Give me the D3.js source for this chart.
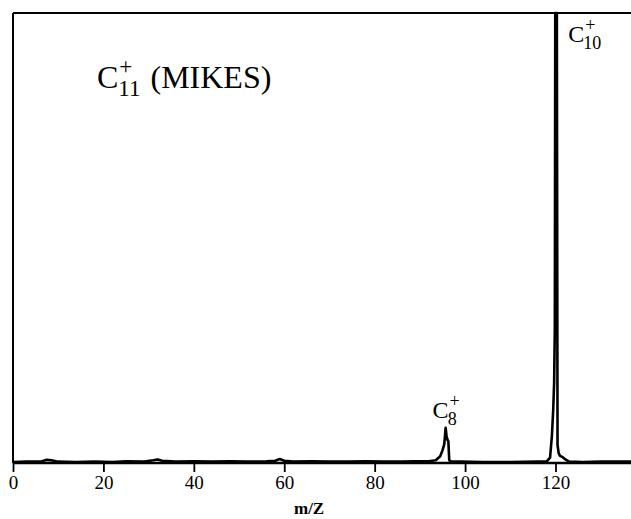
<!DOCTYPE html>
<html>
<head>
<meta charset="utf-8">
<script src="https://cdn.jsdelivr.net/npm/d3@7"></script>
<style>
  body { margin: 0; background: #fff; }
  text { font-family: "Liberation Serif", "DejaVu Serif", serif; fill: #000; }
</style>
</head>
<body>
<script>
// m/Z positions and relative intensity (% of C10+ peak)
const mz = [0, 3, 6, 7.5, 8.5, 10, 14, 18, 22, 25, 29, 31, 32, 33, 36, 40, 44, 48, 52, 56, 58, 59, 60, 62, 66, 70, 74, 78, 82, 86, 89, 92, 93.5, 94.5, 95, 95.4, 95.7, 95.9, 96.1, 96.3, 96.5, 97, 99, 104, 110, 116, 118, 118.8, 119.2, 119.5, 119.7, 119.85, 119.95, 120.3, 120.45, 120.7, 121, 121.6, 122.2, 123, 126, 130, 137]
const intensity = [0.2, 0.3, 0.3, 0.7, 0.6, 0.3, 0.2, 0.3, 0.2, 0.4, 0.3, 0.6, 0.8, 0.5, 0.3, 0.4, 0.3, 0.4, 0.3, 0.4, 0.5, 0.9, 0.5, 0.3, 0.4, 0.3, 0.3, 0.4, 0.3, 0.3, 0.4, 0.4, 0.6, 1.5, 2.8, 4.2, 7.8, 6.0, 5.2, 4.8, 0.6, 0.3, 0.3, 0.2, 0.2, 0.3, 0.3, 1.2, 6, 12, 18, 30, 100, 100, 4, 2.2, 1.6, 1.3, 0.8, 0.3, 0.2, 0.3, 0.3]

const xTicks = [0, 20, 40, 60, 80, 100, 120]
const xLabel = 'm/Z'
const peakLabels = [
  { ion: 'C', sub: '8', mz: 95.8, at: 10 },
  { ion: 'C', sub: '10', mz: 122.8, at: 93.5 }
]

const W = 631, H = 519
const margin = { top: 13, right: 0, bottom: 56, left: 13 }

const svg = d3.select('body').append('svg')
  .attr('width', W).attr('height', H)

const x = d3.scaleLinear().domain([0, 136.7]).range([margin.left, W - margin.right])
const y = d3.scaleLinear().domain([0, 100]).range([H - margin.bottom, margin.top])

const pts = mz.map((m, i) => [m, intensity[i]])

// spectrum trace
svg.append('path')
  .datum(pts)
  .attr('fill', 'none')
  .attr('stroke', '#000')
  .attr('stroke-width', 2.6)
  .attr('stroke-linejoin', 'round')
  .attr('d', d3.line().x(d => x(d[0])).y(d => y(d[1])))

// frame: top and left borders
svg.append('line')
  .attr('x1', x(0)).attr('x2', W).attr('y1', y(100)).attr('y2', y(100))
  .attr('stroke', '#000').attr('stroke-width', 2)
svg.append('line')
  .attr('x1', x(0)).attr('x2', x(0)).attr('y1', y(100)).attr('y2', y(0))
  .attr('stroke', '#000').attr('stroke-width', 2)

// bottom axis
const axis = svg.append('g')
  .attr('transform', `translate(0,${y(0)})`)
  .call(d3.axisBottom(x).tickValues(xTicks).tickSize(9).tickPadding(4))
axis.select('.domain').attr('stroke-width', 2.6).attr('d', `M${x(0)},0H${W}`)
axis.selectAll('.tick line').attr('stroke-width', 1.8)
axis.selectAll('.tick text')
  .style('font-family', '"Liberation Serif", serif')
  .style('font-size', '19px')
  .attr('fill', '#000')

svg.append('text')
  .attr('x', x(65.5)).attr('y', 514)
  .attr('text-anchor', 'middle')
  .style('font-size', '17px')
  .style('font-weight', 'bold')
  .text(xLabel)

// peak annotations
peakLabels.forEach(p => {
  const t = svg.append('text')
    .attr('x', x(p.mz)).attr('y', y(p.at))
    .attr('text-anchor', p.sub === '8' ? 'middle' : 'start')
    .style('font-size', '24px')
  t.append('tspan').text(p.ion)
  const s = t.append('tspan').style('font-size', '18px')
  s.append('tspan').attr('dx', 1).attr('dy', -11).text('+')
  s.append('tspan').attr('dx', -12).attr('dy', 18).text(p.sub)
})

// title
const title = svg.append('text')
  .attr('x', 97).attr('y', 88)
  .style('font-size', '32px')
title.append('tspan').text('C')
title.append('tspan').style('font-size', '23px').attr('dx', 1).attr('dy', -14).text('+')
title.append('tspan').style('font-size', '23px').attr('dx', -14).attr('dy', 22).text('11')
title.append('tspan').attr('dx', 10).attr('dy', -8).text('(MIKES)')
</script>
</body>
</html>
